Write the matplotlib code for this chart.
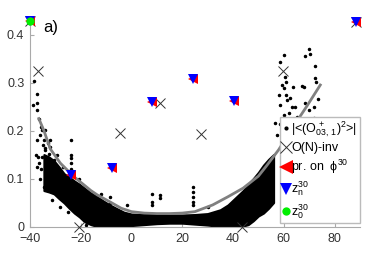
import numpy as np
import matplotlib
matplotlib.use('Agg')
import matplotlib.pyplot as plt

plt.rcParams['font.family'] = ['Liberation Sans', 'DejaVu Sans']
plt.rcParams['mathtext.default'] = 'regular'

# dense cloud of |<(O+_03,1)^2>| values, read as a band (x, lower, upper)
band_x = [-34.5, -32.5, -30.5, -28.5, -26.5, -24.5, -22.5, -20.5, -18.5, -16, -13.5, -11, -8.5,
          -6, -3, 0, 5, 10, 15, 20, 25, 30, 35, 38, 40, 42, 44, 46, 48, 50, 52, 54, 56]
band_lo = [0.075, 0.072, 0.068, 0.058, 0.049, 0.038, 0.028, 0.02, 0.01, 0.004, 0.0, 0.0, 0.0,
           0.0, 0.002, 0.002, 0.004, 0.006, 0.007, 0.007, 0.005, 0.003, 0.0, 0.0, 0.0, 0.0,
           0.001, 0.004, 0.012, 0.022, 0.028, 0.038, 0.05]
band_hi = [0.15, 0.145, 0.137, 0.124, 0.11, 0.103, 0.095, 0.088, 0.08, 0.07, 0.062, 0.053,
           0.045, 0.038, 0.03, 0.026, 0.025, 0.026, 0.024, 0.024, 0.025, 0.027, 0.035, 0.045,
           0.055, 0.065, 0.075, 0.088, 0.1, 0.113, 0.128, 0.14, 0.15]

# scattered points outside the band
dots_x = [-38.2, -37.4, -37.1, -38.7, -37.1, -36.5, -35.8, -35.2, -33.9, -37.1, -34.5, -33.9,
          -31.9, -36.9, -35.2, -32.6, -37.1, -30.6, -34.5, -31.9, -31.2, -28.0, -37.8, -36.5,
          -31.9, -33.9, -32.6, -21.4, -36.0, -35.0, -34.0, -35.5, -36.2, -33.0, -29.5, -27.0,
          -24.0, -24.0, -24.0, -24.0, -23.8, -20.7, -20.7, -20.7, -8.3, -8.3, -8.2, -1.7,
          8.1, 8.1, 8.1, 11.1, 11.1, 24.3, 24.3, 24.3, 24.3, 24.3, 30.2, -25.0, -18.0, -12.0,
          60.0, 58.7, 70.1, 70.5, 68.2, 72.4, 60.6, 61.0, 72.4, 72.8, 59.3, 60.2, 63.6, 67.2,
          68.1, 58.0, 61.0, 73.5, 61.3, 62.6, 58.7, 63.3, 64.6, 68.2, 71.8, 60.0, 62.0, 65.2,
          69.8, 61.3, 71.8, 72.2, 56.7, 58.7, 62.6, 66.9, 64.0, 57.5]
dots_y = [0.304, 0.277, 0.257, 0.253, 0.243, 0.225, 0.208, 0.201, 0.201, 0.18, 0.18, 0.163,
          0.166, 0.145, 0.145, 0.152, 0.125, 0.139, 0.083, 0.083, 0.055, 0.041, 0.149, 0.132,
          0.18, 0.083, 0.08, 0.041, 0.19, 0.17, 0.16, 0.12, 0.1, 0.175, 0.15, 0.125,
          0.18, 0.149, 0.142, 0.132, 0.12, 0.1, 0.086, 0.08, 0.062, 0.05, 0.04, 0.045,
          0.068, 0.052, 0.045, 0.066, 0.059, 0.083, 0.072, 0.062, 0.052, 0.045, 0.041, 0.03,
          0.004, 0.068,
          0.357, 0.343, 0.369, 0.359, 0.355, 0.335, 0.311, 0.302, 0.309, 0.302, 0.295, 0.288,
          0.291, 0.293, 0.29, 0.275, 0.275, 0.265, 0.264, 0.268, 0.253, 0.25, 0.25, 0.257,
          0.25, 0.232, 0.236, 0.229, 0.243, 0.225, 0.227, 0.22, 0.215, 0.214, 0.214, 0.214,
          0.2, 0.19]

# gray fitted curve
fit_x = [-36.5, -34.5, -32, -28, -22.7, -16, -13.5, -8, -4, 0, 5, 10, 15, 20, 25, 32, 38, 44,
         50, 53, 58, 64.6, 69, 74.4]
fit_y = [0.225, 0.2, 0.162, 0.132, 0.104, 0.075, 0.066, 0.05, 0.038, 0.031, 0.028, 0.027,
         0.027, 0.028, 0.031, 0.045, 0.062, 0.08, 0.105, 0.125, 0.16, 0.215, 0.25, 0.295]

# O(N)-invariant points
onx = [-36.7, -20.5, -4.7, 11.4, 27.4, 43.6, 59.6, 88.6, -39.8]
ony = [0.324, 0.0, 0.194, 0.258, 0.193, 0.0, 0.324, 0.426, 0.428]

# projections on phi^30, z_n^30
px = [-39.8, -24.0, -7.6, 8.1, 24.3, 40.3, 88.6]
py = [0.428, 0.107, 0.121, 0.26, 0.307, 0.261, 0.426]

# z_0^30
z0x = [-39.8]
z0y = [0.428]

fig = plt.figure(figsize=(3.65, 2.58), dpi=100)
ax = fig.add_axes([0.082, 0.122, 0.904, 0.781])

ax.fill_between(band_x, band_lo, band_hi, color='black', lw=1.5, zorder=2)
ax.plot(dots_x, dots_y, '.', color='black', ms=3, zorder=2)
ax.plot(fit_x, fit_y, '-', color='#808080', lw=2, zorder=3)
ax.plot(onx, ony, 'x', color='#333333', ms=7, mew=0.7, zorder=4, clip_on=False)
ax.plot(px, py, '<', color='red', ms=7, mew=0, zorder=5, clip_on=False)
ax.plot(px, py, 'v', color='blue', ms=6.5, mew=0, zorder=6, clip_on=False)
ax.plot(z0x, z0y, 'o', color='#00ee00', ms=6, mew=0, zorder=7, clip_on=False)

# legend handles
h1, = ax.plot([], [], '.', color='black', ms=4)
h2, = ax.plot([], [], 'x', color='#333333', ms=9, mew=0.7)
h3, = ax.plot([], [], '<', color='red', ms=10, mew=0)
h4, = ax.plot([], [], 'v', color='blue', ms=8, mew=0)
h5, = ax.plot([], [], 'o', color='#00ee00', ms=6, mew=0)
labels = [r'|<(O$^{\,+}_{03,\,1}$)$^2$>|', 'O(N)-inv', r'pr. on  $\phi^{30}$',
          r'z$^{30}_{n}$', r'z$^{30}_{0}$']
leg = ax.legend([h1, h2, h3, h4, h5], labels, loc='lower right', bbox_to_anchor=(1.0, 0.017),
                fontsize=9, handlelength=0.5, handletextpad=0.2, borderpad=0.2,
                borderaxespad=0.0, labelspacing=0.28, fancybox=False, framealpha=1,
                edgecolor='#bbbbbb')
leg.set_zorder(10)

ax.set_xlim(-40, 90)
ax.set_ylim(0, 0.42)
ax.set_xticks([-40, -20, 0, 20, 40, 60, 80])
ax.set_yticks([0, 0.1, 0.2, 0.3, 0.4])
ax.set_yticklabels(['0', '0.1', '0.2', '0.3', '0.4'])
for s in ['top', 'right']:
    ax.spines[s].set_visible(False)
for s in ['left', 'bottom']:
    ax.spines[s].set_color('#aaaaaa')
ax.tick_params(direction='in', length=3, color='#aaaaaa', labelsize=9, labelcolor='#333333')
ax.tick_params(axis='x', pad=5)
ax.tick_params(axis='y', pad=4)

fig.text(0.118, 0.895, 'a)', fontsize=12, color='black', va='center')

fig.savefig('out.png', dpi=100)
